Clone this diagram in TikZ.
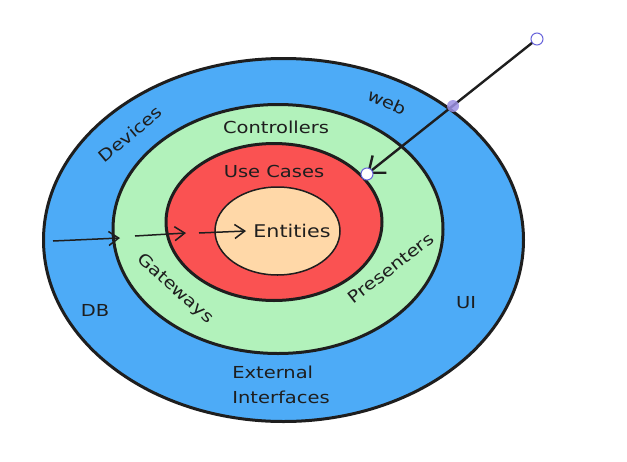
\documentclass[tikz,border=0pt]{standalone}
\usepackage{fontspec}
\setmainfont[FakeStretch=1.18]{DejaVu Sans}
\usepackage{xcolor}
\usetikzlibrary{arrows.meta,shapes.geometric}

\definecolor{inkdark}{HTML}{1E1E1E}
\definecolor{extblue}{HTML}{4DABF7}
\definecolor{ctrlgreen}{HTML}{B2F2BB}
\definecolor{usered}{HTML}{FA5252}
\definecolor{entorange}{HTML}{FFD8A8}
\definecolor{handleblue}{HTML}{6965DB}
\definecolor{handlepurple}{HTML}{9B8FE3}

\begin{document}
\begin{tikzpicture}[
  x=1pt, y=-1pt,
  font=\fontsize{16.5}{25}\selectfont,
  every node/.style={align=left, text=inkdark, inner sep=1pt},
  ring/.style={ellipse, draw=inkdark, line width=3pt, inner sep=0pt},
  arr/.style={-{Straight Barb[length=10pt, width=14pt]}, inkdark, line width=1.5pt},
  bigarr/.style={-{Straight Barb[length=14pt, width=22pt]}, inkdark, line width=2.4pt},
  handle/.style={circle, draw=handleblue, fill=white, line width=1pt, minimum size=12pt, inner sep=0pt},
  midhandle/.style={circle, fill=handlepurple, fill opacity=0.85, minimum size=12pt, inner sep=0pt},
]
\useasboundingbox (0,0) rectangle (627,461);

%% --- Layers, outside in ---
\node[ring, fill=extblue,    minimum width=480pt, minimum height=363pt] (ext)  at (283.5,240) {};
\node[ring, fill=ctrlgreen,  minimum width=330pt, minimum height=249pt] (ctrl) at (278,229) {};
\node[ring, fill=usered,     minimum width=216pt, minimum height=157pt] (uc)   at (274,222) {};
\node[ring, fill=entorange,  minimum width=125pt, minimum height=88pt, line width=1.5pt] (ent) at (277.5,231) {};

%% --- Labels ---
\node (lctrl) at (276,127) {Controllers};
\node (luc)   at (274,171) {Use Cases};
\node[font=\fontsize{17.5}{25}\selectfont] (lent) at (292,231) {Entities};
\node[rotate=40]  (ldev)  at (130,134) {Devices};
\node[rotate=-25] (lweb)  at (387,102) {web};
\node[rotate=-42] (lgate) at (175,289) {Gateways};
\node[rotate=38]  (lpres) at (391,268) {Presenters};
\node (ldb) at (95,310) {DB};
\node (lui) at (466,303) {UI};
\node (lext) at (281,385) {External\\Interfaces};

%% --- Dependency arrows, pointing inwards ---
\coordinate (d1) at (53,241);
\coordinate (d2) at (120,238);
\coordinate (d3) at (135,236);
\coordinate (d4) at (186,233);
\coordinate (d5) at (199,233);
\coordinate (d6) at (246,231);
\draw[arr] (d1) -- (d2);
\draw[arr] (d3) -- (d4);
\draw[arr] (d5) -- (d6);

%% --- Selected arrow with its handles ---
\coordinate (ws) at (537,39);
\coordinate (we) at (367,174);
\draw[bigarr] (ws) -- (we);
\node[handle] (hs) at (ws) {};
\node[handle] (he) at (we) {};
\node[midhandle] (hm) at (453,106) {};

\end{tikzpicture}
\end{document}
